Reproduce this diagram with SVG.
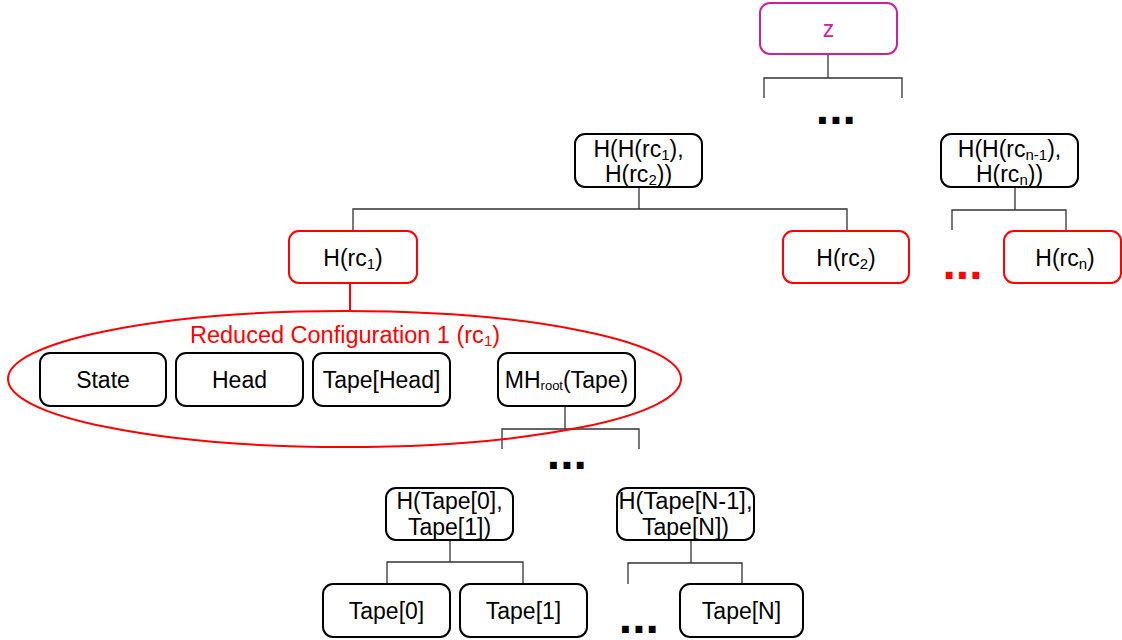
<svg xmlns="http://www.w3.org/2000/svg" width="1122" height="640" viewBox="0 0 1122 640">
<style>
text{font-family:"Liberation Sans",Arial,sans-serif;font-size:23px;fill:#000;text-anchor:middle}
.box{fill:#fff;stroke:#000;stroke-width:2}
.red{stroke:#ff0000}
.mag{stroke:#cc2299}
.sub{font-size:15px}
.con{fill:none;stroke:#333;stroke-width:1.3}
.dots{font-weight:bold;font-size:48px;text-anchor:start}
</style>
<rect width="1122" height="640" fill="#fff"/>
<g id="connectors">
<path class="con" d="M828,54V78M764,98V78H902V98"/>
<path class="con" d="M639,187V209M353,231V209H847V231"/>
<path class="con" d="M1015,187V210M952,230V210H1066V231"/>
<path class="con" d="M565,406V429M502,449V429H639V449"/>
<path class="con" d="M450,540V562M387,584V562H523V584"/>
<path class="con" d="M691,540V563M628,584V563H742V584"/>
<path d="M350,283V312" fill="none" stroke="#ff0000" stroke-width="2"/>
</g>
<g id="rc1-ellipse">
<ellipse cx="344.5" cy="379" rx="336.5" ry="68" fill="none" stroke="#ff0000" stroke-width="2"/>
<text x="345" y="343" style="fill:#ff0000;font-size:23.5px">Reduced Configuration 1 (rc<tspan class="sub" dy="3">1</tspan><tspan dy="-3">)</tspan></text>
</g>
<g id="z">
<rect class="box mag" x="760" y="3" width="137" height="51" rx="10"/>
<text x="828.5" y="37" style="fill:#cc2299">z</text>
</g>
<g id="dots-top"><text class="dots" x="815.8" y="124">...</text></g>
<g id="hh12">
<rect class="box" x="575" y="134" width="127" height="53" rx="10"/>
<text x="638.5" y="157">H(H(rc<tspan class="sub" dy="3">1</tspan><tspan dy="-3">),</tspan></text>
<text x="638.5" y="182">H(rc<tspan class="sub" dy="3">2</tspan><tspan dy="-3">))</tspan></text>
</g>
<g id="hhn">
<rect class="box" x="941" y="134" width="137" height="53" rx="10"/>
<text x="1009.5" y="157">H(H(rc<tspan class="sub" dy="3">n-1</tspan><tspan dy="-3">),</tspan></text>
<text x="1009.5" y="182">H(rc<tspan class="sub" dy="3">n</tspan><tspan dy="-3">))</tspan></text>
</g>
<g id="hrc1">
<rect class="box red" x="289" y="231" width="128" height="52" rx="10"/>
<text x="353" y="266">H(rc<tspan class="sub" dy="3">1</tspan><tspan dy="-3">)</tspan></text>
</g>
<g id="hrc2">
<rect class="box red" x="783" y="231" width="126" height="52" rx="10"/>
<text x="846" y="266">H(rc<tspan class="sub" dy="3">2</tspan><tspan dy="-3">)</tspan></text>
</g>
<g id="dots-red"><text class="dots" x="942.5" y="279" style="fill:#ff0000">...</text></g>
<g id="hrcn">
<rect class="box red" x="1004" y="231" width="117" height="52" rx="10"/>
<text x="1065" y="266">H(rc<tspan class="sub" dy="3">n</tspan><tspan dy="-3">)</tspan></text>
</g>
<g id="state">
<rect class="box" x="40" y="353" width="126" height="53" rx="10"/>
<text x="103" y="388">State</text>
</g>
<g id="head">
<rect class="box" x="176" y="353" width="127" height="53" rx="10"/>
<text x="239.5" y="388">Head</text>
</g>
<g id="tapehead">
<rect class="box" x="313" y="353" width="137" height="53" rx="10"/>
<text x="381.5" y="388">Tape[Head]</text>
</g>
<g id="mhroot">
<rect class="box" x="498" y="353" width="137" height="53" rx="10"/>
<text x="566.5" y="388">MH<tspan class="sub" style="font-size:13px" dy="2">root</tspan><tspan dy="-2">(Tape)</tspan></text>
</g>
<g id="dots-mid"><text class="dots" x="546.8" y="469">...</text></g>
<g id="htape01">
<rect class="box" x="386" y="488" width="127" height="52" rx="10"/>
<text x="449.5" y="509">H(Tape[0],</text>
<text x="449.5" y="535">Tape[1])</text>
</g>
<g id="htapeN">
<rect class="box" x="617" y="488" width="137" height="52" rx="10"/>
<text x="685.5" y="509" textLength="134" lengthAdjust="spacingAndGlyphs">H(Tape[N-1],</text>
<text x="685.5" y="535">Tape[N])</text>
</g>
<g id="tape0">
<rect class="box" x="323" y="584" width="127" height="53" rx="10"/>
<text x="386.5" y="619">Tape[0]</text>
</g>
<g id="tape1">
<rect class="box" x="460" y="584" width="127" height="53" rx="10"/>
<text x="523.5" y="619">Tape[1]</text>
</g>
<g id="dots-bottom"><text class="dots" x="618.8" y="633">...</text></g>
<g id="tapeN">
<rect class="box" x="680" y="584" width="123" height="53" rx="10"/>
<text x="741.5" y="619">Tape[N]</text>
</g>
</svg>
